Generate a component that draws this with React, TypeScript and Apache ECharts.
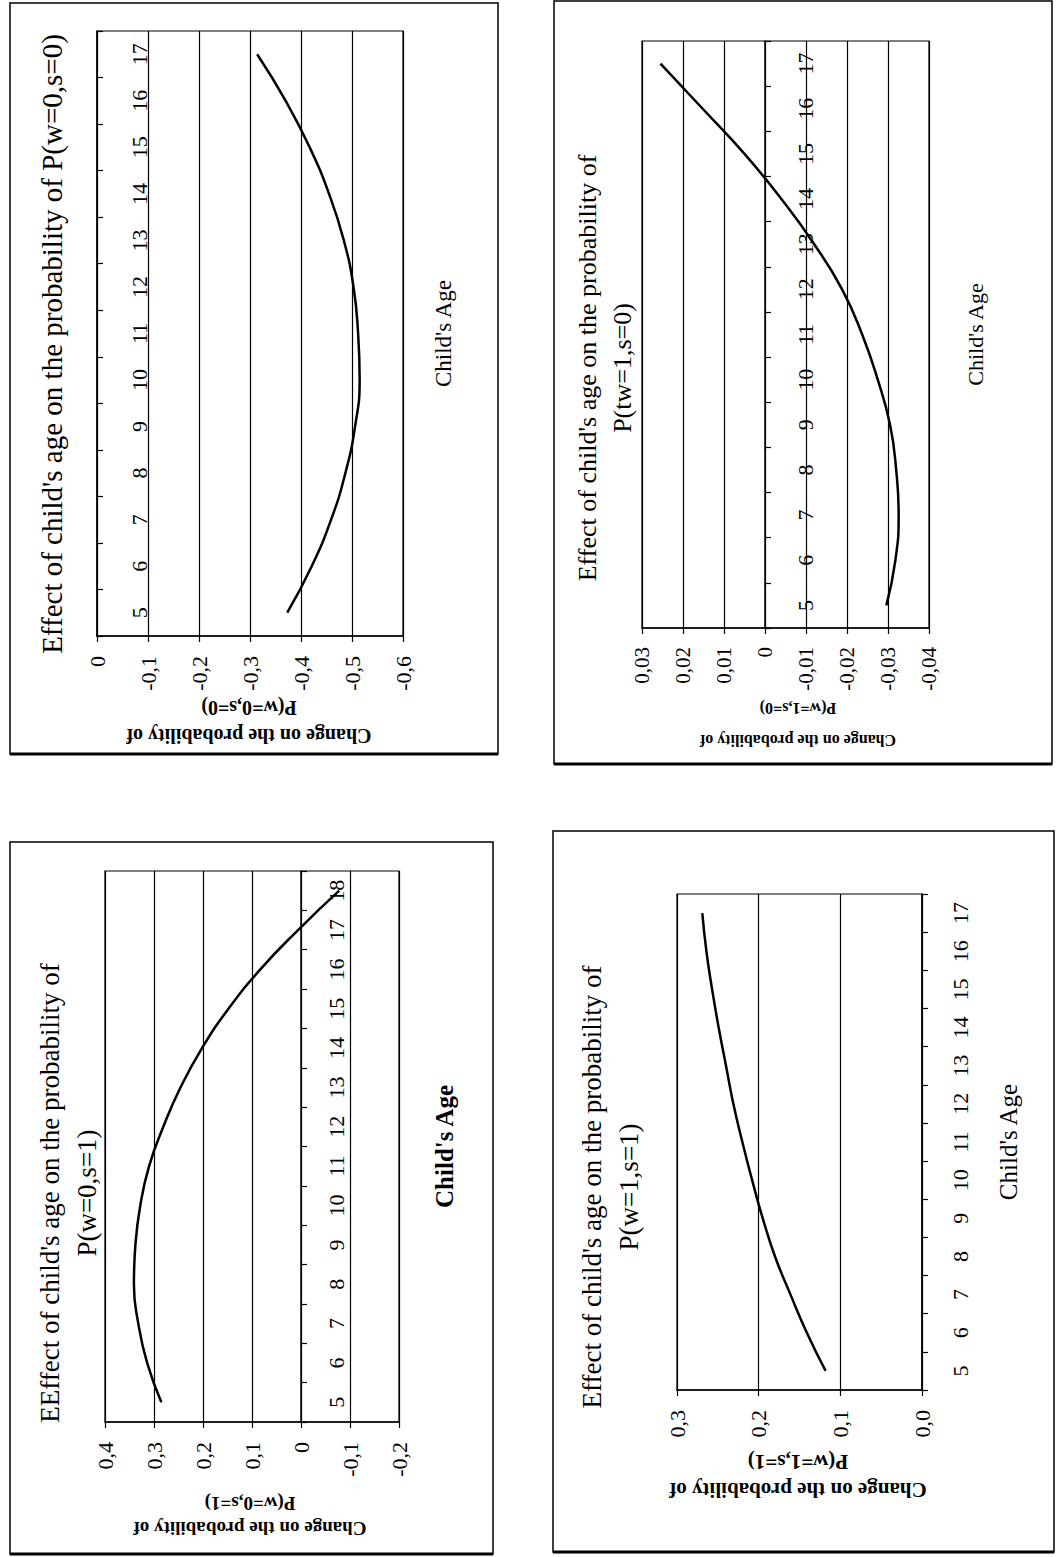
import React, { useEffect, useRef } from 'react';
import * as echarts from 'echarts';

// ---------- data ----------
const agesTo17 = ['5', '6', '7', '8', '9', '10', '11', '12', '13', '14', '15', '16', '17'];
const agesTo18 = ['5', '6', '7', '8', '9', '10', '11', '12', '13', '14', '15', '16', '17', '18'];

// Effect of child's age on P(w=0,s=0)
const effectW0S0 = [-0.373, -0.421, -0.459, -0.487, -0.506, -0.515, -0.512, -0.503, -0.484, -0.455, -0.417, -0.370, -0.314];
// Effect of child's age on P(tw=1,s=0)
const effectTw1S0 = [-0.0296, -0.0318, -0.0326, -0.0320, -0.0305, -0.0275, -0.0237, -0.0188, -0.0120, -0.0040, 0.0050, 0.0152, 0.0255];
// Effect of child's age on P(w=0,s=1)
const effectW0S1 = [0.285, 0.314, 0.332, 0.341, 0.338, 0.328, 0.310, 0.281, 0.246, 0.202, 0.148, 0.083, 0.006, -0.078];
// Effect of child's age on P(w=1,s=1)
const effectW1S1 = [0.118, 0.141, 0.161, 0.180, 0.195, 0.208, 0.220, 0.231, 0.240, 0.249, 0.257, 0.264, 0.269];

const titleW0S0 = ["Effect of child's age on the probability of P(w=0,s=0)"];
const titleTw1S0 = ["Effect of child's age on the probability of", 'P(tw=1,s=0)'];
const titleW0S1 = ["EEffect of child's age on the probability of", 'P(w=0,s=1)'];
const titleW1S1 = ["Effect of child's age on the probability of", 'P(w=1,s=1)'];

const yTitleTop = 'Change on the probability of';
const xTitle = "Child's Age";

const SERIF = '"Liberation Serif", "Times New Roman", Times, serif';

const makeFmt = (dec: number, zeroPlain: boolean) => (v: number) => {
  const val = Math.abs(v) < 1e-9 ? 0 : v;
  if (val === 0 && zeroPlain) return '0';
  return val.toFixed(dec).replace('.', ',');
};

const panels = [
  {
    cats: agesTo17, data: effectW0S0, min: -0.6, max: 0, interval: 0.1, dec: 1, zeroPlain: true,
    grid: { left: 97, top: 31, width: 306, height: 605 },
    border: { x: 10, y: 3, w: 488, h: 751 },
    title: titleW0S0, titleX: [52], titleY: 344, titleSize: 29,
    ageX: 443, ageSize: 23, ageBold: false,
    yTitleX: 249, yTitleY1: 708, yTitleY2: 736, yTitleSize: 20, yTitle2: 'P(w=0,s=0)',
    catMargin: 31, valMargin: 20, valSize: 22, catSize: 22,
  },
  {
    cats: agesTo17, data: effectTw1S0, min: -0.04, max: 0.03, interval: 0.01, dec: 2, zeroPlain: true,
    grid: { left: 642, top: 41, width: 287, height: 587 },
    border: { x: 554, y: 1, w: 498, h: 763 },
    title: titleTw1S0, titleX: [587, 622], titleY: 368, titleSize: 26,
    ageX: 975, ageSize: 22, ageBold: false,
    yTitleX: 798, yTitleY1: 708, yTitleY2: 740, yTitleSize: 16, yTitle2: 'P(w=1,s=0)',
    catMargin: 29, valMargin: 19, valSize: 21, catSize: 22,
  },
  {
    cats: agesTo18, data: effectW0S1, min: -0.2, max: 0.4, interval: 0.1, dec: 1, zeroPlain: true,
    grid: { left: 105, top: 871, width: 294, height: 551 },
    border: { x: 10, y: 842, w: 483, h: 712 },
    title: titleW0S1, titleX: [50, 87], titleY: 1193, titleSize: 27,
    ageX: 444, ageSize: 25, ageBold: true,
    yTitleX: 250, yTitleY1: 1503, yTitleY2: 1528, yTitleSize: 19, yTitle2: 'P(w=0,s=1)',
    catMargin: 24, valMargin: 20, valSize: 22, catSize: 22,
  },
  {
    cats: agesTo17, data: effectW1S1, min: 0, max: 0.3, interval: 0.1, dec: 1, zeroPlain: false,
    grid: { left: 677, top: 894, width: 245, height: 496 },
    border: { x: 553, y: 831, w: 501, h: 721 },
    title: titleW1S1, titleX: [592, 629], titleY: 1187, titleSize: 27,
    ageX: 1008, ageSize: 25, ageBold: false,
    yTitleX: 798, yTitleY1: 1462, yTitleY2: 1490, yTitleSize: 21, yTitle2: 'P(w=1,s=1)',
    catMargin: 27, valMargin: 20, valSize: 22, catSize: 22,
  },
];

function buildOption() {
  const graphic: any[] = [];
  panels.forEach((p) => {
    graphic.push({
      type: 'rect', silent: true, z: 0,
      shape: { x: p.border.x, y: p.border.y, width: p.border.w, height: p.border.h },
      style: { fill: 'none', stroke: '#000', lineWidth: 1.5 },
    });
    graphic.push({
      type: 'line', silent: true,
      shape: { x1: p.border.x, y1: p.border.y + p.border.h, x2: p.border.x + p.border.w, y2: p.border.y + p.border.h },
      style: { stroke: '#000', lineWidth: 3 },
    });
    p.title.forEach((line, k) => {
      graphic.push({
        type: 'text', silent: true, x: p.titleX[k], y: p.titleY, rotation: Math.PI / 2,
        style: { text: line, fontSize: p.titleSize, fontFamily: SERIF, fill: '#000', align: 'center', verticalAlign: 'middle' },
      });
    });
    const cy = p.grid.top + p.grid.height / 2;
    graphic.push({
      type: 'text', silent: true, x: p.ageX, y: cy, rotation: Math.PI / 2,
      style: { text: xTitle, fontSize: p.ageSize, fontWeight: p.ageBold ? 'bold' : 'normal', fontFamily: SERIF, fill: '#000', align: 'center', verticalAlign: 'middle' },
    });
    graphic.push({
      type: 'text', silent: true, x: p.yTitleX, y: p.yTitleY1, rotation: Math.PI,
      style: { text: p.yTitle2, fontSize: p.yTitleSize, fontWeight: 'bold', fontFamily: SERIF, fill: '#000', align: 'center', verticalAlign: 'middle' },
    });
    graphic.push({
      type: 'text', silent: true, x: p.yTitleX, y: p.yTitleY2, rotation: Math.PI,
      style: { text: yTitleTop, fontSize: p.yTitleSize, fontWeight: 'bold', fontFamily: SERIF, fill: '#000', align: 'center', verticalAlign: 'middle' },
    });
  });

  return {
    animation: false,
    backgroundColor: '#ffffff',
    grid: panels.map((p) => ({
      left: p.grid.left, top: p.grid.top, width: p.grid.width, height: p.grid.height,
      show: true, borderColor: '#000', borderWidth: 1.2, backgroundColor: 'rgba(0,0,0,0)', containLabel: false,
    })),
    xAxis: panels.map((p, i) => ({
      gridIndex: i, type: 'value', min: p.min, max: p.max, interval: p.interval, inverse: true, position: 'bottom',
      axisLine: { show: true, onZero: false, lineStyle: { color: '#000', width: 1.5 } },
      axisTick: { show: true, length: 6, lineStyle: { color: '#000', width: 1.2 } },
      splitLine: { show: true, lineStyle: { color: '#000', width: 1.2 } },
      axisLabel: {
        rotate: 90, margin: p.valMargin, fontSize: p.valSize, fontFamily: SERIF, color: '#000',
        formatter: makeFmt(p.dec, p.zeroPlain),
      },
    })),
    yAxis: panels.map((p, i) => {
      // the category axis crosses the value axis at 0 (value axis is reversed)
      const zeroX = p.grid.left + ((p.max - 0) / (p.max - p.min)) * p.grid.width;
      const offset = zeroX - (p.grid.left + p.grid.width);
      return {
        gridIndex: i, type: 'category', data: p.cats, position: 'right', boundaryGap: true, offset,
        axisLine: { show: true, onZero: false, lineStyle: { color: '#000', width: 1.5 } },
        axisTick: { show: true, interval: 0, length: 6, alignWithLabel: false, lineStyle: { color: '#000', width: 1.2 } },
        axisLabel: { interval: 0, rotate: 90, margin: p.catMargin, fontSize: p.catSize, fontFamily: SERIF, color: '#000' },
        splitLine: { show: false },
      };
    }),
    series: panels.map((p, i) => ({
      type: 'line', xAxisIndex: i, yAxisIndex: i, data: p.data, symbol: 'none', smooth: 0.5, silent: true,
      lineStyle: { color: '#000', width: 2.5 },
    })),
    graphic,
  };
}

export default function App() {
  const ref = useRef<HTMLDivElement>(null);
  useEffect(() => {
    if (!ref.current) return;
    const chart = echarts.init(ref.current, null, { renderer: 'svg' });
    chart.setOption(buildOption() as any);
    return () => chart.dispose();
  }, []);
  return (
    <div
      ref={ref}
      style={{ position: 'absolute', left: 0, top: 0, width: 1057, height: 1557, background: '#fff' }}
    />
  );
}
